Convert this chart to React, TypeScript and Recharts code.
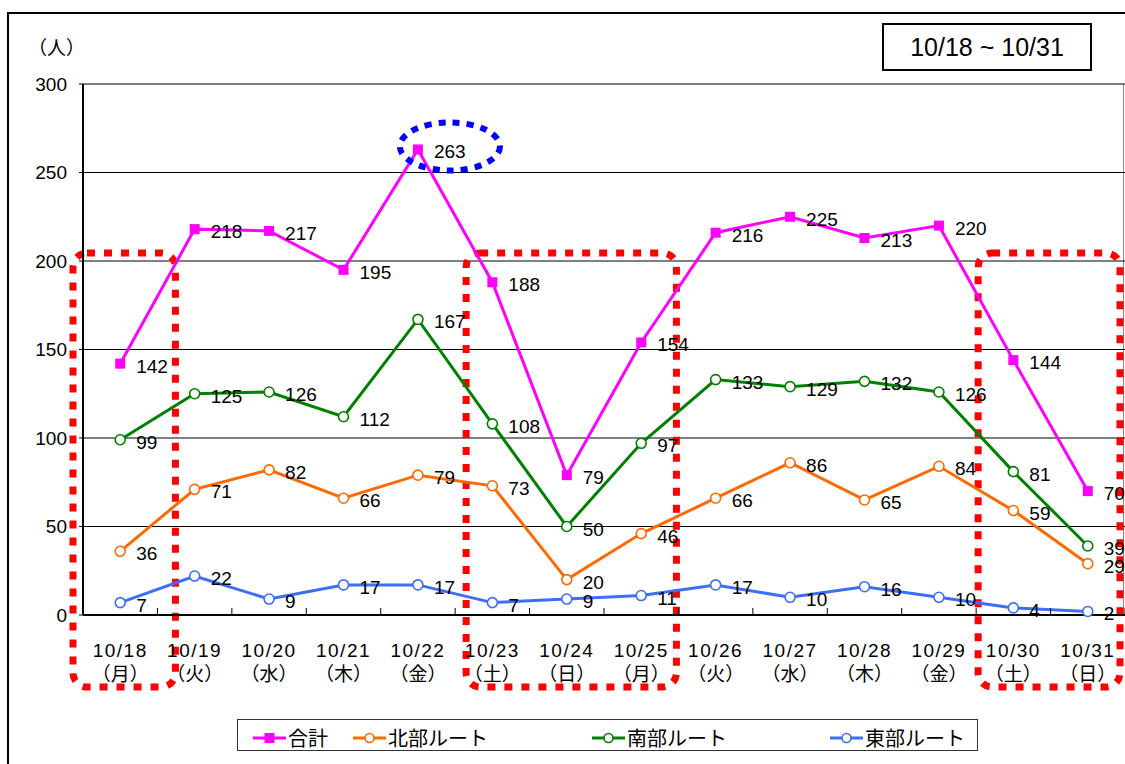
import {
  LineChart,
  Line,
  XAxis,
  YAxis,
  CartesianGrid,
  ReferenceArea,
  ReferenceDot,
} from 'recharts';

const dates = ['10/18', '10/19', '10/20', '10/21', '10/22', '10/23', '10/24', '10/25', '10/26', '10/27', '10/28', '10/29', '10/30', '10/31'];
const weekdays = ['月', '火', '水', '木', '金', '土', '日', '月', '火', '水', '木', '金', '土', '日'];

const totalValues = [142, 218, 217, 195, 263, 188, 79, 154, 216, 225, 213, 220, 144, 70];
const northValues = [36, 71, 82, 66, 79, 73, 20, 46, 66, 86, 65, 84, 59, 29];
const southValues = [99, 125, 126, 112, 167, 108, 50, 97, 133, 129, 132, 126, 81, 39];
const eastValues = [7, 22, 9, 17, 17, 7, 9, 11, 17, 10, 16, 10, 4, 2];

const yTicks = [0, 50, 100, 150, 200, 250, 300];

// weekend / holiday blocks marked with red dotted boxes
const highlightRanges = [
  ['10/18', '10/18'],
  ['10/23', '10/25'],
  ['10/30', '10/31'],
];
// how far each hand-drawn box sticks out past its category band (left, right)
const boxInsets = [
  [-10, 18],
  [11, -2],
  [2, -5],
];

const series = [
  { key: 'total', name: '合計', color: '#FF00FF', square: true },
  { key: 'north', name: '北部ルート', color: '#FF6A00', square: false },
  { key: 'south', name: '南部ルート', color: '#008000', square: false },
  { key: 'east', name: '東部ルート', color: '#3D6DFB', square: false },
];

const data = dates.map((d, i) => ({
  date: d,
  day: weekdays[i],
  total: totalValues[i],
  north: northValues[i],
  south: southValues[i],
  east: eastValues[i],
}));

const FONT = "'Liberation Sans', 'Noto Sans CJK JP', sans-serif";

const SquareDot = (props: any) => {
  const { cx, cy, stroke } = props;
  if (cx == null || cy == null) return null;
  return <rect x={cx - 5} y={cy - 5} width={10} height={10} fill={stroke} />;
};

const CircleDot = (props: any) => {
  const { cx, cy, stroke } = props;
  if (cx == null || cy == null) return null;
  return <circle cx={cx} cy={cy} r={5} fill="#fff" stroke={stroke} strokeWidth={1.6} />;
};

const valueLabel = (props: any) => {
  const { x, y, value } = props;
  return (
    <text x={x + 16} y={y + 9} fontSize={19} fontFamily={FONT} fill="#000">
      {value}
    </text>
  );
};

const DateTick = (props: any) => {
  const { x, y, payload, index } = props;
  const off = payload.offset || 0;
  return (
    <g>
      <line x1={x + off} x2={x + off} y1={y - 7} y2={y} stroke="#000" strokeWidth={1} />
      <text x={x} y={y + 42} textAnchor="middle" fontSize={19} fontFamily={FONT} letterSpacing={1.5}>
        {payload.value}
      </text>
      <text x={x} y={y + 66} textAnchor="middle" fontSize={19} fontFamily={FONT}>
        {'（' + weekdays[index] + '）'}
      </text>
    </g>
  );
};

const makeRedBox = (inset: number[]) => (props: any) => {
  const { x, y, width, height } = props;
  return (
    <rect
      x={x + inset[0]}
      y={y - 8}
      width={width - inset[0] + inset[1]}
      height={height + 80}
      rx={14}
      fill="none"
      stroke="#FF0000"
      strokeWidth={7}
      strokeDasharray="8 9"
    />
  );
};

const blueEllipse = (props: any) => {
  const { cx, cy } = props;
  return (
    <ellipse
      cx={cx + 32}
      cy={cy - 3}
      rx={50}
      ry={24}
      fill="none"
      stroke="#0000FF"
      strokeWidth={6}
      strokeDasharray="7 7"
    />
  );
};

const LegendBox = () => (
  <div
    style={{
      position: 'absolute',
      left: 237,
      top: 719,
      width: 739,
      height: 30,
      border: '1.5px solid #333',
      fontFamily: FONT,
      fontSize: 20,
    }}
  >
    {series.map((s, i) => (
      <div
        key={s.key}
        style={{ display: 'flex', alignItems: 'center', position: 'absolute', top: 3, left: [15, 115, 354, 592][i] }}
      >
        <svg width={33} height={14}>
          <line x1={0} x2={33} y1={7} y2={7} stroke={s.color} strokeWidth={3} />
          {s.square ? (
            <rect x={11.5} y={2} width={10} height={10} fill={s.color} />
          ) : (
            <circle cx={16.5} cy={7} r={4.5} fill="#fff" stroke={s.color} strokeWidth={1.6} />
          )}
        </svg>
        <span style={{ marginLeft: 2 }}>{s.name}</span>
      </div>
    ))}
  </div>
);

export default function App() {
  return (
    <div style={{ position: 'absolute', left: 0, top: 0, width: 1125, height: 764, background: '#fff', overflow: 'hidden' }}>
      {/* outer frame */}
      <div style={{ position: 'absolute', left: 7, top: 12, width: 1130, height: 780, border: '2px solid #000' }} />
      <div style={{ position: 'absolute', left: 1123, top: 84, width: 1, height: 531, background: '#888' }} />
      <div style={{ position: 'absolute', left: 28, top: 33, fontFamily: FONT, fontSize: 19 }}>（人）</div>
      <div
        style={{
          position: 'absolute',
          left: 882,
          top: 23,
          width: 206,
          height: 44,
          border: '2px solid #000',
          fontFamily: FONT,
          fontSize: 25,
          display: 'flex',
          alignItems: 'center',
          justifyContent: 'center',
        }}
      >
        10/18 ~ 10/31
      </div>
      <div style={{ position: 'absolute', left: 0, top: 0 }}>
        <LineChart width={1125} height={764} data={data} margin={{ top: 84, right: 0, bottom: 69, left: 6 }}>
          <CartesianGrid vertical={false} stroke="#000" strokeWidth={1} />
          <XAxis
            dataKey="date"
            scale="band"
            height={80}
            tickSize={0}
            tickMargin={0}
            tickLine={false}
            axisLine={{ stroke: '#000', strokeWidth: 2 }}
            tick={<DateTick />}
            interval={0}
          />
          <YAxis
            domain={[0, 300]}
            ticks={yTicks}
            width={77}
            tickSize={4}
            tickMargin={12}
            axisLine={{ stroke: '#000', strokeWidth: 2 }}
            tickLine={{ stroke: '#000' }}
            tick={{ fontSize: 19, fontFamily: FONT, fill: '#000' }}
          />
          {series.map((s) => (
            <Line
              key={s.key}
              dataKey={s.key}
              name={s.name}
              stroke={s.color}
              strokeWidth={3}
              type="linear"
              isAnimationActive={false}
              dot={s.square ? <SquareDot /> : <CircleDot />}
              label={valueLabel}
            />
          ))}
          {highlightRanges.map(([a, b], i) => (
            <ReferenceArea key={a} x1={a} x2={b} y1={0} y2={200} ifOverflow="visible" shape={makeRedBox(boxInsets[i])} />
          ))}
          <ReferenceDot x="10/22" y={263} ifOverflow="visible" shape={blueEllipse} />
        </LineChart>
      </div>
      <LegendBox />
    </div>
  );
}
